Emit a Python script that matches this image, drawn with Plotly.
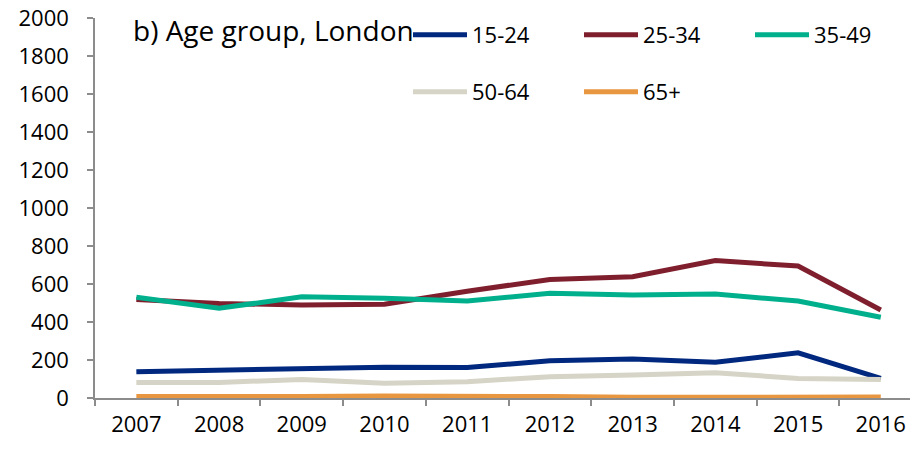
import plotly.graph_objects as go

years = ["2007", "2008", "2009", "2010", "2011", "2012", "2013", "2014", "2015", "2016"]
age_15_24 = [138, 146, 152, 162, 160, 196, 205, 188, 238, 103]
age_25_34 = [519, 498, 489, 494, 562, 624, 638, 723, 695, 463]
age_35_49 = [530, 472, 533, 525, 510, 551, 542, 547, 510, 425]
age_50_64 = [82, 82, 98, 77, 86, 112, 121, 133, 103, 98]
age_65p = [8, 6, 8, 10, 12, 8, 4, 6, 6, 5]

series = [
    ("15-24", age_15_24, "#00287F", "legend"),
    ("25-34", age_25_34, "#7F1F2E", "legend"),
    ("35-49", age_35_49, "#00B08D", "legend"),
    ("50-64", age_50_64, "#D6D4C6", "legend2"),
    ("65+", age_65p, "#E8963F", "legend2"),
]

FONT = "Open Sans"
# page body has an 8px margin, so the figure is drawn at (8, 8)
OFF = 8
PL, PT, PR, PB = 95 - OFF, 18 - OFF, 918 - OFF, 398 - OFF
W, H = 918 - OFF, 449 - OFF
PW, PH = PR - PL, PB - PT

fig = go.Figure()
for name, vals, color, lg in series:
    fig.add_trace(go.Scatter(
        x=years, y=vals, name=name, mode="lines",
        line=dict(color=color, width=5),
        legend=lg,
    ))

legend_common = dict(
    orientation="h", xref="paper", yref="paper",
    xanchor="left", yanchor="middle",
    entrywidth=102, entrywidthmode="pixels",
    font=dict(family=FONT, size=22, color="black"),
    bgcolor="rgba(0,0,0,0)", itemwidth=54, tracegroupgap=0,
)

def px_x(x):
    return (x - OFF - PL) / PW

def px_y(y):
    return 1 - (y - OFF - PT) / PH

fig.update_layout(
    width=W, height=H,
    margin=dict(l=PL, r=W - PR, t=PT, b=H - PB, autoexpand=False),
    paper_bgcolor="white", plot_bgcolor="white",
    font=dict(family=FONT, size=22, color="black"),
    showlegend=True,
    legend=dict(x=px_x(408), y=px_y(35), **legend_common),
    legend2=dict(x=px_x(408), y=px_y(92), **legend_common),
    xaxis=dict(
        type="category", range=[-0.5, 9.45],
        showline=True, linecolor="#8C8C8C", linewidth=1.5,
        ticks="outside", tickson="boundaries", ticklen=6, tickcolor="#8C8C8C", tickwidth=1.5,
        showgrid=False, zeroline=False,
        tickfont=dict(family=FONT, size=22, color="black"),
        ticklabelstandoff=6,
    ),
    yaxis=dict(
        range=[0, 2000], tick0=0, dtick=200,
        showline=True, linecolor="#8C8C8C", linewidth=1.5,
        ticks="outside", ticklen=6, tickcolor="#8C8C8C", tickwidth=1.5,
        showgrid=False, zeroline=False,
        tickfont=dict(family=FONT, size=22, color="black"),
        ticklabelstandoff=14, ticklabeloverflow="allow",
    ),
    annotations=[dict(
        text="b) Age group, London", xref="paper", yref="paper",
        x=px_x(131), y=px_y(30), xanchor="left", yanchor="middle",
        showarrow=False, font=dict(family=FONT, size=28, color="black"),
    )],
)

fig.write_html("out.html")
